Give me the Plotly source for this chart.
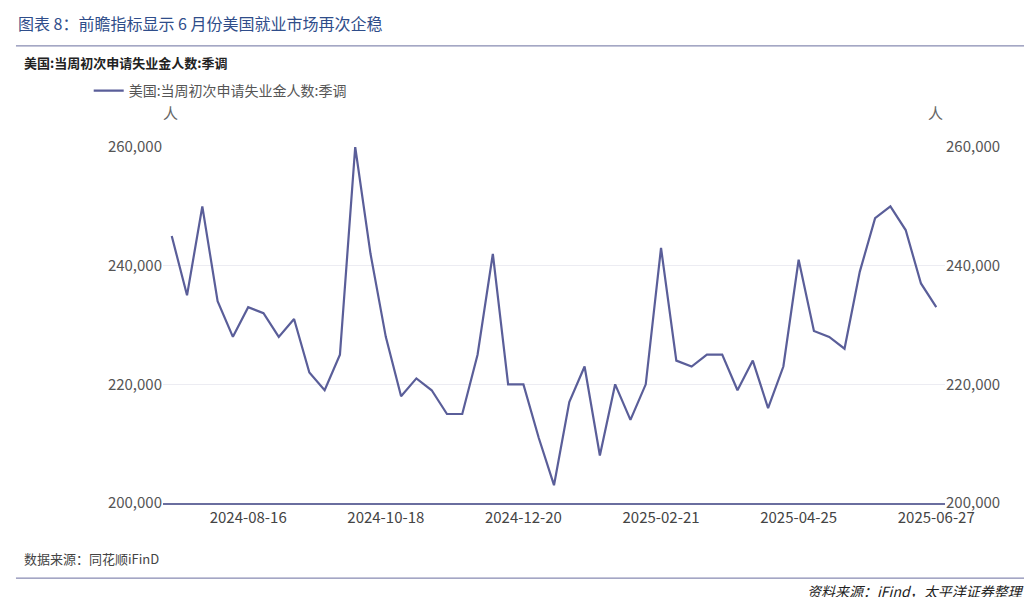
import pandas as pd
import plotly.graph_objects as go

dates = pd.date_range('2024-07-12', '2025-06-27', freq='7D')
claims = [245, 235, 250, 234, 228, 233, 232, 228, 231, 222,
          219, 225, 260, 242, 228, 218, 221, 219, 215, 215,
          225, 242, 220, 220, 211, 203, 217, 223, 208, 220,
          214, 220, 243, 224, 223, 225, 225, 219, 224, 216,
          223, 241, 229, 228, 226, 239, 248, 250, 246, 237, 233]
claims = [v * 1000 for v in claims]
tick_dates = ['2024-08-16', '2024-10-18', '2024-12-20', '2025-02-21', '2025-04-25', '2025-06-27']
y_ticks = [200000, 220000, 240000, 260000]

name = '美国:当周初次申请失业金人数:季调'
line_color = '#5a5e99'
font = 'Noto Sans CJK SC'

fig = go.Figure()
fig.add_trace(go.Scatter(x=dates, y=claims, name=name, mode='lines',
                         line=dict(color=line_color, width=2.2)))
fig.add_trace(go.Scatter(x=dates, y=claims, yaxis='y2', mode='lines',
                         line=dict(color='rgba(0,0,0,0)'), showlegend=False, hoverinfo='skip'))

fig.update_layout(
    width=1032, height=597,
    margin=dict(l=155, r=95, t=139, b=102, autoexpand=False),
    paper_bgcolor='white', plot_bgcolor='white',
    font=dict(family=font, color='#555', size=15),
    showlegend=True,
    legend=dict(x=-0.095, y=1.157, xanchor='left', yanchor='middle',
                font=dict(size=14, color='#555'), bgcolor='rgba(0,0,0,0)'),
    xaxis=dict(range=[pd.Timestamp('2024-07-08'), pd.Timestamp('2025-07-01')],
               tickvals=tick_dates, ticktext=tick_dates, showgrid=False,
               showline=True, linecolor='#6a6e9f', linewidth=1.5, ticks='',
               tickfont=dict(size=15, color='#444')),
    yaxis=dict(range=[200000, 260000], tickvals=y_ticks, tickformat=',',
               showgrid=True, gridcolor='#ececf2', zeroline=False,
               tickfont=dict(size=15, color='#555'), ticksuffix='  '),
    yaxis2=dict(range=[200000, 260000], tickvals=y_ticks, tickformat=',',
                overlaying='y', side='right', showgrid=False, zeroline=False,
                tickfont=dict(size=15, color='#555'), tickprefix='  '),
)

# header / footer texts
fig.add_annotation(text='图表 8：前瞻指标显示 6 月份美国就业市场再次企稳', xref='paper', yref='paper',
                   x=-0.188, y=1.348, xanchor='left', yanchor='middle', showarrow=False,
                   font=dict(size=16, color='#2f4d8a', family=font))
fig.add_annotation(text='<b>' + name + '</b>', xref='paper', yref='paper',
                   x=-0.18, y=1.236, xanchor='left', yanchor='middle', showarrow=False,
                   font=dict(size=13, color='#222'))
fig.add_annotation(text='人', xref='paper', yref='paper', x=0.01, y=1.096,
                   xanchor='center', yanchor='middle', showarrow=False, font=dict(size=15, color='#666'))
fig.add_annotation(text='人', xref='paper', yref='paper', x=0.988, y=1.096,
                   xanchor='center', yanchor='middle', showarrow=False, font=dict(size=15, color='#666'))
fig.add_annotation(text='数据来源：同花顺iFinD', xref='paper', yref='paper', x=-0.18, y=-0.157,
                   xanchor='left', yanchor='middle', showarrow=False, font=dict(size=13, color='#444'))
fig.add_annotation(text='<i>资料来源：iFind，太平洋证券整理</i>', xref='paper', yref='paper', x=1.104, y=-0.247,
                   xanchor='right', yanchor='middle', showarrow=False, font=dict(size=14, color='#222'))
fig.add_shape(type='line', xref='paper', yref='paper', x0=-0.188, x1=1.113, y0=1.284, y1=1.284,
              line=dict(color='#6a6e9f', width=1))
fig.add_shape(type='line', xref='paper', yref='paper', x0=-0.188, x1=1.113, y0=-0.211, y1=-0.211,
              line=dict(color='#6a6e9f', width=1))

fig.write_html('out.html')
